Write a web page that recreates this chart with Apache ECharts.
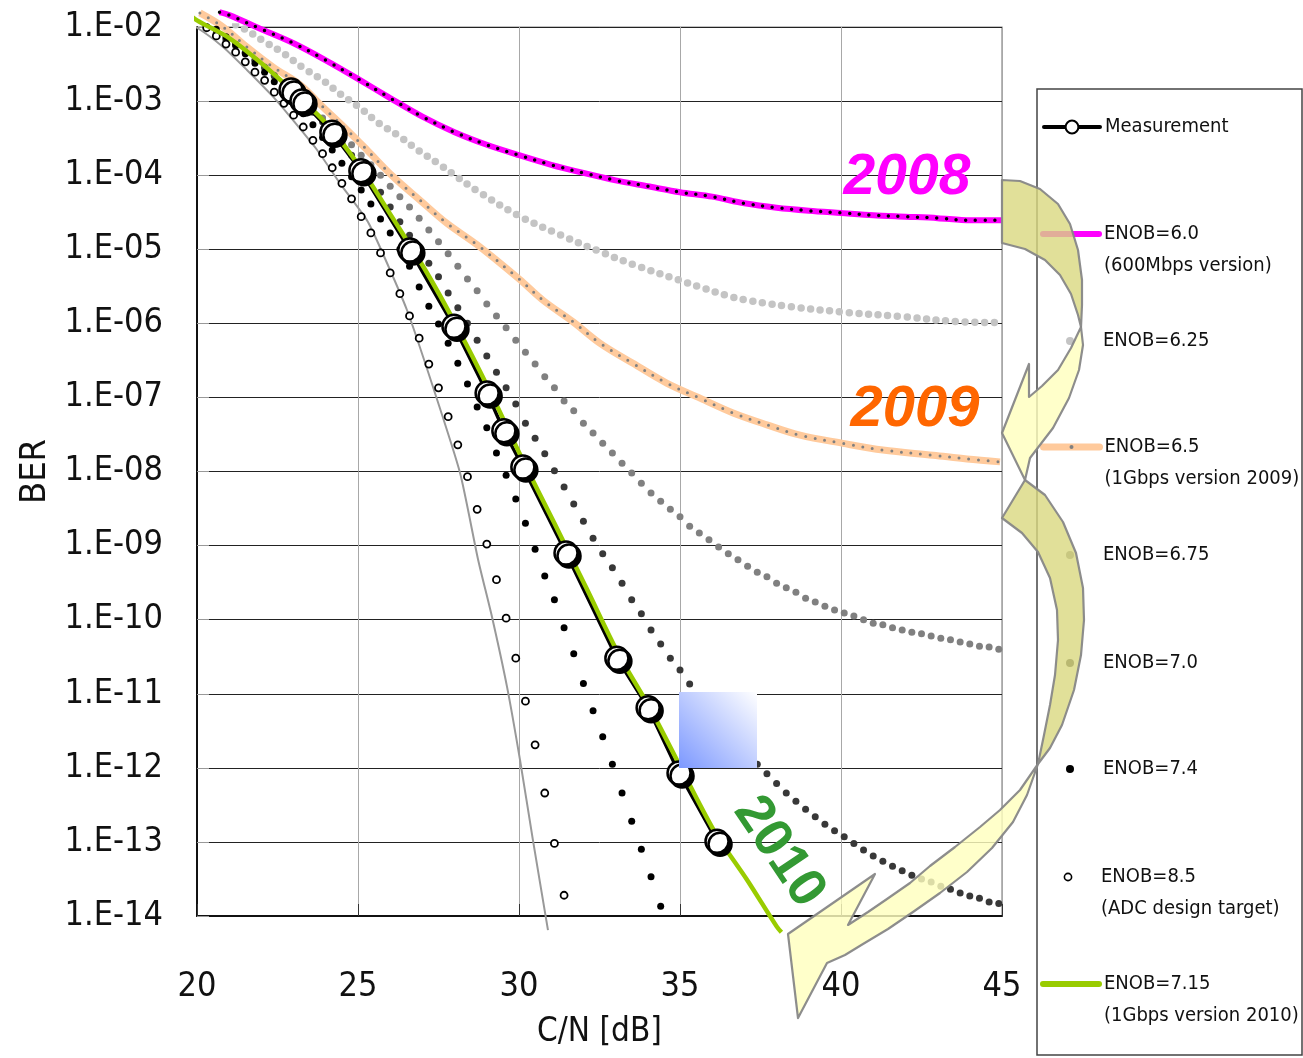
<!DOCTYPE html>
<html><head><meta charset="utf-8">
<script src="https://cdn.jsdelivr.net/npm/echarts@6/dist/echarts.min.js"></script>
<style>html,body{margin:0;padding:0;background:#fff}#c{width:1303px;height:1058px}</style>
</head><body><div id="c"></div>
<script>
const NARROW = "'Liberation Sans Narrow','Arial Narrow','DejaVu Sans Condensed',sans-serif";

// ---- data: C/N [dB] and log10(BER) ----
const xTicks = [20, 25, 30, 35, 40, 45];

// C/N positions of the plotted dots of the simulated curves (one dot every 0.3 dB)
const dotCN = [20.0,20.3,20.6,20.9,21.2,21.5,21.8,22.1,22.4,22.7,23.0,23.3,23.6,23.9,24.2,24.5,24.8,25.1,25.4,25.7,
  26.0,26.3,26.6,26.9,27.2,27.5,27.8,28.1,28.4,28.7,29.0,29.3,29.6,29.9,30.2,30.5,30.8,31.1,31.4,31.7,
  32.0,32.3,32.6,32.9,33.2,33.5,33.8,34.1,34.4,34.7,35.0,35.3,35.6,35.9,36.2,36.5,36.8,37.1,37.4,37.7,
  38.0,38.3,38.6,38.9,39.2,39.5,39.8,40.1,40.4,40.7,41.0,41.3,41.6,41.9,42.2,42.5,42.8,43.1,43.4,43.7,
  44.0,44.3,44.6,44.9];

const measCN  = [22.92,23.26,24.19,25.09,26.61,27.98,29.01,29.53,30.12,31.46,33.04,34.01,34.97,36.15];
const measLog = [-2.85,-3.00,-3.42,-3.94,-5.01,-6.04,-6.94,-7.45,-7.94,-9.10,-10.52,-11.19,-12.07,-12.99];

const enob60CN  = [20.7,21,22,23,24,25,26,27,28,29,30,31,32,33,34,35,36,37,38,39,40,41,42,43,44,45];
const enob60Log = [-1.80,-1.84,-2.03,-2.22,-2.45,-2.70,-2.96,-3.21,-3.42,-3.59,-3.73,-3.86,-3.97,-4.07,-4.15,-4.23,-4.29,-4.38,-4.44,-4.48,-4.51,-4.54,-4.56,-4.58,-4.61,-4.61];

const enob625CN  = [21.2,21.49,22.11,22.67,23.29,23.91,24.5,25.06,25.65,26.27,26.89,27.48,28.07,28.66,30.0,31.25,32.5,33.7,35.0,35.62,36.49,37.08,37.7,38.32,40.1,41.9,43.7,45];
const enob625Log = [-1.97,-2.03,-2.20,-2.35,-2.55,-2.72,-2.92,-3.09,-3.30,-3.47,-3.67,-3.84,-4.02,-4.20,-4.55,-4.80,-5.03,-5.23,-5.42,-5.51,-5.63,-5.69,-5.73,-5.77,-5.85,-5.91,-5.98,-5.99];

const enob65CN  = [20.09,20.81,21.55,22.36,23.20,23.91,24.66,25.28,26.09,26.93,27.76,28.70,30.0,30.75,31.68,32.52,33.54,34.60,35.62,36.65,37.70,38.73,40.06,41.30,42.86,43.91,44.94];
const enob65Log = [-1.81,-2.00,-2.27,-2.54,-2.78,-3.08,-3.39,-3.66,-4.02,-4.34,-4.65,-4.94,-5.40,-5.69,-5.98,-6.27,-6.54,-6.81,-7.01,-7.21,-7.37,-7.51,-7.62,-7.71,-7.78,-7.83,-7.87];

// one value per dot of dotCN
const enob675Log = [-1.93,-2.01,-2.09,-2.18,-2.26,-2.35,-2.45,-2.54,-2.65,-2.76,-2.86,-2.99,-3.11,-3.23,-3.35,-3.47,-3.59,-3.73,-3.86,-4.00,
  -4.15,-4.29,-4.43,-4.58,-4.74,-4.90,-5.06,-5.23,-5.40,-5.56,-5.74,-5.90,-6.06,-6.23,-6.39,-6.55,-6.72,-6.87,-7.05,-7.18,
  -7.35,-7.48,-7.62,-7.75,-7.89,-8.02,-8.16,-8.29,-8.40,-8.51,-8.61,-8.74,-8.83,-8.92,-9.02,-9.11,-9.19,-9.28,-9.36,-9.42,
  -9.51,-9.57,-9.63,-9.71,-9.76,-9.82,-9.87,-9.91,-9.95,-10.00,-10.05,-10.07,-10.11,-10.14,-10.17,-10.19,-10.22,-10.25,-10.27,-10.30,
  -10.33,-10.36,-10.37,-10.40];

const enob70Log = [-1.93,-2.00,-2.08,-2.16,-2.24,-2.34,-2.45,-2.55,-2.66,-2.77,-2.89,-3.01,-3.15,-3.28,-3.43,-3.57,-3.73,-3.86,-4.04,-4.23,
  -4.43,-4.63,-4.81,-5.00,-5.19,-5.37,-5.59,-5.79,-6.00,-6.23,-6.44,-6.66,-6.87,-7.09,-7.35,-7.55,-7.76,-7.99,-8.21,-8.44,
  -8.67,-8.90,-9.11,-9.30,-9.51,-9.73,-9.92,-10.14,-10.33,-10.52,-10.68,-10.87,-11.04,-11.21,-11.37,-11.53,-11.68,-11.83,-11.95,-12.08,
  -12.21,-12.34,-12.45,-12.56,-12.66,-12.76,-12.85,-12.93,-13.02,-13.11,-13.19,-13.26,-13.33,-13.39,-13.45,-13.50,-13.54,-13.60,-13.64,-13.69,
  -13.73,-13.76,-13.81,-13.83];

const enob74Log = [-1.85,-1.93,-2.03,-2.13,-2.24,-2.36,-2.49,-2.61,-2.74,-2.88,-3.02,-3.17,-3.32,-3.49,-3.66,-3.84,-4.02,-4.20,-4.39,-4.59,
  -4.78,-5.00,-5.23,-5.51,-5.77,-6.01,-6.27,-6.54,-6.82,-7.13,-7.41,-7.75,-8.05,-8.37,-8.70,-9.05,-9.41,-9.73,-10.11,-10.46,
  -10.86,-11.23,-11.58,-11.95,-12.34,-12.72,-13.10,-13.47,-13.87];

const enob85Log = [null,-2.01,-2.12,-2.23,-2.34,-2.47,-2.61,-2.72,-2.88,-3.03,-3.19,-3.35,-3.53,-3.71,-3.90,-4.11,-4.32,-4.56,-4.78,-5.05,
  -5.32,-5.60,-5.90,-6.20,-6.55,-6.87,-7.26,-7.64,-8.07,-8.51,-8.98,-9.46,-9.98,-10.52,-11.10,-11.69,-12.34,-13.02,-13.72];

const enob715CN  = [19.7,20,21,22,23,24.03,25.06,26.08,27.09,28.09,29.1,30.1,31.1,32.1,33.1,34.1,35.1,36.1,37.08,38.0,38.15];
const enob715Log = [-1.81,-1.91,-2.15,-2.49,-2.88,-3.31,-3.89,-4.58,-5.28,-6.06,-6.92,-7.83,-8.70,-9.58,-10.47,-11.22,-12.06,-12.88,-13.51,-14.14,-14.22];

const limitCN  = [19.63,20.0,20.81,21.55,22.36,22.89,23.73,24.44,25.28,25.68,26.52,27.33,28.17,28.73,29.16,29.63,30.03,30.43,30.90];
const limitLog = [-1.95,-2.01,-2.27,-2.58,-2.94,-3.21,-3.66,-4.11,-4.61,-4.97,-5.82,-6.86,-8.02,-9.19,-9.96,-10.91,-11.89,-12.97,-14.19];

const legendLabels = {
  'Measurement': 'Measurement',
  'ENOB=6.0': '\nENOB=6.0\n(600Mbps version)',
  'ENOB=6.25': 'ENOB=6.25',
  'ENOB=6.5': '\nENOB=6.5\n(1Gbps version 2009)',
  'ENOB=6.75': 'ENOB=6.75',
  'ENOB=7.0': 'ENOB=7.0',
  'ENOB=7.4': 'ENOB=7.4',
  'ENOB=8.5': '\nENOB=8.5\n(ADC design target)',
  'ENOB=7.15': '\nENOB=7.15\n(1Gbps version 2010)'
};

// ---- helpers ----
const pairs = (xs, ls) => ls.map((l, i) => [xs[i], l == null ? null : Math.pow(10, l)]).filter(p => p[1] != null);
const DOT = [0, 9.7];

function dottedLine(name, cn, lg, color, width, z, clip) {
  return { name, type: 'line', data: pairs(cn, lg), smooth: 0.35, symbol: 'none', clip: clip,
    lineStyle: { color, width, type: DOT, cap: 'round' }, itemStyle: { color }, z, silent: true,
    emphasis: { disabled: true } };
}
function pointsOnly(name, cn, lg, size, item, z) {
  return { name, type: 'line', data: pairs(cn, lg), symbol: 'circle', symbolSize: size, showAllSymbol: true,
    lineStyle: { width: 0, opacity: 0 }, itemStyle: item, z, silent: true, emphasis: { disabled: true } };
}

const series = [
  { name: 'limit', type: 'line', data: pairs(limitCN, limitLog), smooth: 0.2, symbol: 'none', clip: false,
    lineStyle: { color: '#999', width: 2 }, z: 2, silent: true },
  { name: 'ENOB=6.0', type: 'line', data: pairs(enob60CN, enob60Log), smooth: 0.3, symbol: 'none', clip: false,
    lineStyle: { color: '#FF00FF', width: 6 }, itemStyle: { color: '#FF00FF' }, z: 2, silent: true },
  dottedLine('ENOB=6.0', enob60CN, enob60Log, '#000', 3.5, 3, false),
  dottedLine('ENOB=6.25', enob625CN, enob625Log, '#C4C4C4', 7.5, 2, true),
  { name: 'ENOB=6.5', type: 'line', data: pairs(enob65CN, enob65Log), smooth: 0.35, symbol: 'none', clip: false,
    lineStyle: { color: '#FFCA9C', width: 7 }, itemStyle: { color: '#808080' }, z: 2, silent: true },
  dottedLine('ENOB=6.5', enob65CN, enob65Log, '#808080', 3, 3, false),
  pointsOnly('ENOB=6.75', dotCN, enob675Log, 7, { color: '#808080' }, 3),
  pointsOnly('ENOB=7.0', dotCN, enob70Log, 7, { color: '#383838' }, 3),
  pointsOnly('ENOB=7.4', dotCN, enob74Log, 7, { color: '#000' }, 4),
  pointsOnly('ENOB=8.5', dotCN, enob85Log, 7, { color: '#fff', borderColor: '#000', borderWidth: 1.8 }, 4),
  { name: 'Measurement', type: 'line', data: pairs(measCN, measLog), symbol: 'none', clip: false,
    lineStyle: { color: '#000', width: 3.5 }, itemStyle: { color: '#fff' }, z: 5, silent: true, emphasis: { disabled: true } },
  { name: 'ENOB=7.15', type: 'line', data: pairs(enob715CN, enob715Log), smooth: 0.3, symbol: 'none', clip: false,
    lineStyle: { color: '#99CC00', width: 4.5 }, itemStyle: { color: '#99CC00' }, z: 6, silent: true },
  { name: 'Measurement', type: 'line', data: pairs(measCN, measLog), symbol: 'circle', symbolSize: 23,
    showAllSymbol: true, clip: false,
    lineStyle: { width: 0, opacity: 0 },
    itemStyle: { color: '#fff', borderColor: '#000', borderWidth: 2.5, shadowColor: '#000', shadowOffsetX: 3, shadowOffsetY: 3, shadowBlur: 0 },
    z: 7, silent: true, emphasis: { disabled: true } }
];

// ---- legends: one component per entry so each icon can be sized like the original ----
const NOLINE = 'rgba(0,0,0,0)';
const legendRows = [
  { name: 'Measurement', y: 127, two: false, h: 16, lw: 4, line: '#000', item: { color: '#fff', borderColor: '#000', borderWidth: 2 } },
  { name: 'ENOB=6.0', y: 234, two: true, h: 8, lw: 6, line: '#FF00FF', item: { color: NOLINE, borderWidth: 0 } },
  { name: 'ENOB=6.25', y: 341, two: false, h: 10, lw: 0, line: NOLINE, item: { color: '#C4C4C4', borderWidth: 0 } },
  { name: 'ENOB=6.5', y: 447, two: true, h: 5, lw: 7, line: '#FFCA9C', item: { color: '#808080', borderWidth: 0 } },
  { name: 'ENOB=6.75', y: 555, two: false, h: 10, lw: 0, line: NOLINE, item: { color: '#808080', borderWidth: 0 } },
  { name: 'ENOB=7.0', y: 663, two: false, h: 10, lw: 0, line: NOLINE, item: { color: '#383838', borderWidth: 0 } },
  { name: 'ENOB=7.4', y: 769, two: false, h: 10, lw: 0, line: NOLINE, item: { color: '#000', borderWidth: 0 } },
  { name: 'ENOB=8.5', y: 877, two: true, h: 9, lw: 0, line: NOLINE, item: { color: '#fff', borderColor: '#000', borderWidth: 1.6 } },
  { name: 'ENOB=7.15', y: 984, two: true, h: 8, lw: 6, line: '#99CC00', item: { color: NOLINE, borderWidth: 0 } }
];
const LH = 32;
const legends = legendRows.map(r => {
  const d = { name: r.name, itemStyle: r.item,
    lineStyle: { color: r.line, width: r.lw, cap: 'round', type: 'solid', opacity: r.lw ? 1 : 0 } };
  const boxH = r.two ? 3 * LH : LH;
  return {
    data: [d], orient: 'vertical', left: r.two ? 1040 : 1042, top: r.y - boxH / 2, padding: 0,
    itemWidth: 56, itemHeight: r.h, itemGap: 0, selectedMode: false,
    formatter: n => legendLabels[n],
    textStyle: { fontFamily: NARROW, fontSize: 20, color: '#111', lineHeight: LH }
  };
});

// ---- annotation shapes (arrows etc.) ----
const arrow1Dark = [[1002,180],[1020,181],[1040,189],[1058,204],[1070,224],[1078,250],[1082,280],[1082,305],[1081,327],[1078,315],[1071,294],[1060,275],[1045,260],[1025,249],[1002,243]];
const arrow1Light = [[1081,327],[1083,345],[1079,370],[1069,398],[1053,428],[1030,458],[1025,480],[1002,433],[1029,364],[1029,397],[1042,386],[1058,370],[1071,348]];
const arrow2Dark = [[1025,480],[1045,495],[1063,522],[1076,553],[1083,588],[1084,620],[1081,655],[1074,690],[1062,725],[1050,748],[1038,764],[1044,735],[1050,705],[1055,675],[1058,640],[1057,610],[1050,578],[1038,552],[1022,533],[1002,518]];
const arrow2Light = [[1038,764],[1027,795],[1013,822],[992,848],[967,872],[940,893],[913,912],[888,929],[863,944],[845,955],[827,963],[798,1018],[788,934],[875,874],[848,925],[868,912],[887,899],[910,883],[930,866],[955,847],[980,827],[1000,810],[1020,790]];

const DARK = 'rgba(218,216,128,0.8)', LIGHT = 'rgba(255,255,190,0.82)', EDGE = 'rgba(135,135,135,0.95)';
const poly = (pts, fill, z) => ({ type: 'polygon', shape: { points: pts }, style: { fill, stroke: EDGE, lineWidth: 2.2, lineJoin: 'round' }, z, silent: true });

const graphics = [
  { type: 'rect', shape: { x: 1037, y: 89, width: 265, height: 966 }, style: { fill: 'none', stroke: '#444', lineWidth: 1.5 }, z: 1, silent: true },
  { type: 'rect', shape: { x: 679, y: 692, width: 78, height: 76 },
    style: { fill: new echarts.graphic.LinearGradient(0, 1, 1, 0, [{ offset: 0, color: '#7C98FF' }, { offset: 1, color: '#FFFFFF' }]) }, z: 50, silent: true },
  { type: 'text', x: 907, y: 178, z: 55, silent: true,
    style: { text: '2008', fill: '#FF00FF', font: 'italic bold 57px "Liberation Sans", Arial, sans-serif', align: 'center', verticalAlign: 'middle', textAlign: 'center', textVerticalAlign: 'middle' } },
  { type: 'text', x: 915, y: 410, z: 55, silent: true,
    style: { text: '2009', fill: '#FF6600', font: 'italic bold 58px "Liberation Sans", Arial, sans-serif', align: 'center', verticalAlign: 'middle', textAlign: 'center', textVerticalAlign: 'middle' } },
  { type: 'text', x: 779, y: 852, z: 55, silent: true, rotation: -56 * Math.PI / 180,
    style: { text: '2010', fill: '#339933', font: 'bold 54px "Liberation Sans", Arial, sans-serif', align: 'center', verticalAlign: 'middle', textAlign: 'center', textVerticalAlign: 'middle' } },
  poly(arrow2Dark, DARK, 60),
  poly(arrow2Light, LIGHT, 61),
  poly(arrow1Dark, DARK, 62),
  poly(arrow1Light, LIGHT, 63)
];

const chart = echarts.init(document.getElementById('c'), null, { renderer: 'canvas' });
chart.setOption({
  animation: false,
  backgroundColor: '#fff',
  grid: { left: 197, top: 27, width: 805, height: 889, show: true, borderColor: '#888', borderWidth: 1.2,
    containLabel: false, outerBoundsMode: 'none' },
  xAxis: {
    type: 'value', min: xTicks[0], max: xTicks[xTicks.length - 1], interval: 5,
    name: 'C/N [dB]', nameLocation: 'middle', nameGap: 100,
    nameTextStyle: { fontFamily: NARROW, fontSize: 33, color: '#111' },
    axisLine: { show: true, onZero: false, lineStyle: { color: '#111', width: 2 } },
    axisTick: { show: true, inside: true, length: 12, lineStyle: { color: '#333' } },
    axisLabel: { fontFamily: NARROW, fontSize: 34, color: '#111', margin: 54 },
    splitLine: { show: true, lineStyle: { color: '#A8A8A8', width: 1 } }
  },
  yAxis: {
    type: 'log', logBase: 10, min: 1e-14, max: 1e-2, interval: 1,
    name: 'BER', nameLocation: 'middle', nameGap: 140,
    nameTextStyle: { fontFamily: NARROW, fontSize: 36, color: '#111' },
    axisLine: { show: true, lineStyle: { color: '#111', width: 2 } },
    axisTick: { show: true, inside: true, length: 12, lineStyle: { color: '#999' } },
    axisLabel: { fontFamily: NARROW, fontSize: 34, color: '#111', margin: 34,
      formatter: v => { const e = Math.round(Math.log10(v)); return '1.E-' + String(-e).padStart(2, '0'); } },
    splitLine: { show: true, lineStyle: { color: '#222', width: 1 } }
  },
  legend: legends,
  series: series,
  graphic: { elements: graphics }
});
</script></body></html>
